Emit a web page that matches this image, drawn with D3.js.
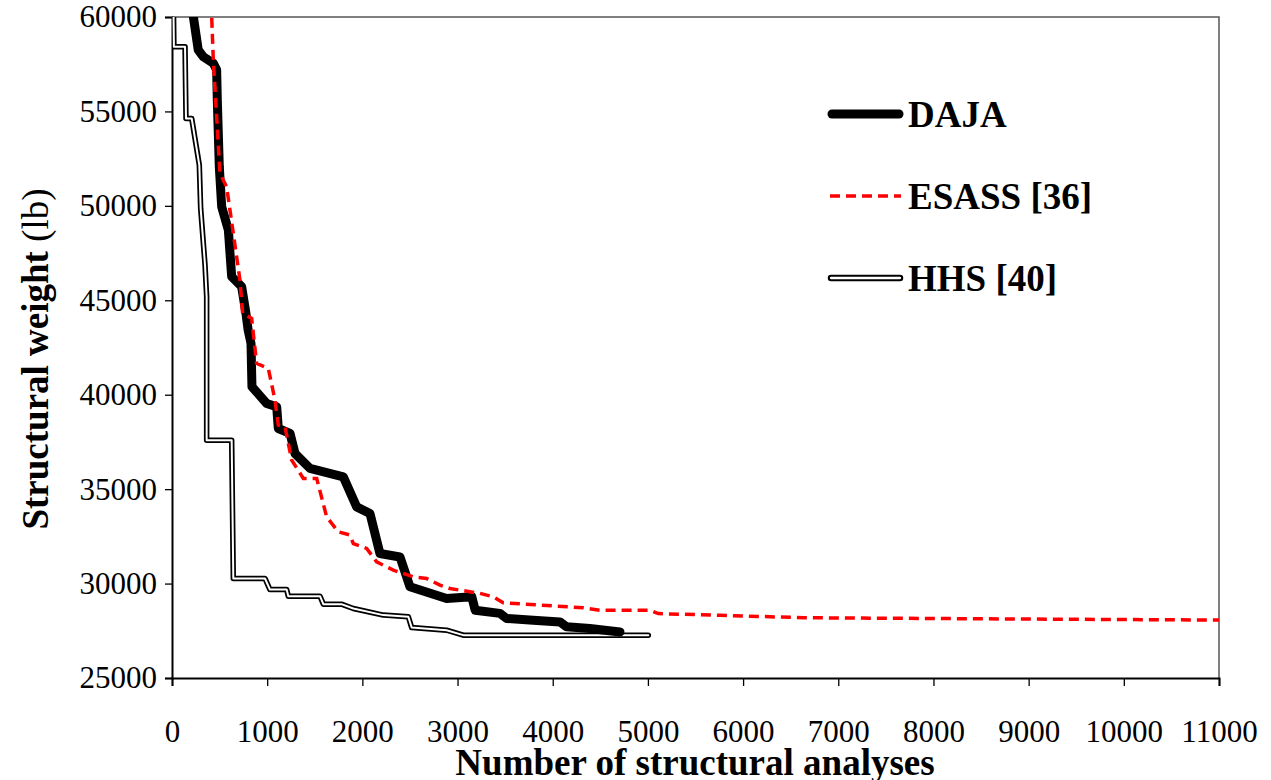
<!DOCTYPE html>
<html lang="en">
<head>
<meta charset="UTF-8">
<title>Structural weight convergence</title>
<script src="https://cdn.jsdelivr.net/npm/d3@7"></script>
<style>
  body { margin: 0; background: #fff; }
  text { font-family: "Liberation Serif", "Times New Roman", serif; }
</style>
</head>
<body>
<script>
// series values
var dajaX = [200, 225, 276, 329, 434, 469, 476, 497, 522, 592, 627, 732, 777, 800, 830, 840, 995, 1100, 1117, 1240, 1292, 1450, 1800, 1940, 2080, 2185, 2395, 2500, 2885, 3150, 3185, 3445, 3516, 3795, 4076, 4146, 4390, 4706];
var dajaY = [61500, 60000, 58250, 57900, 57550, 57200, 55600, 52070, 49950, 48720, 46250, 45720, 44300, 43420, 42720, 40420, 39540, 39360, 38210, 37950, 36890, 36100, 35650, 34060, 33710, 31590, 31410, 29830, 29210, 29300, 28590, 28420, 28150, 28060, 27970, 27710, 27620, 27440];

var esassX = [410, 417, 434, 504, 574, 714, 742, 837, 889, 1012, 1082, 1117, 1187, 1257, 1380, 1520, 1625, 1747, 1870, 1905, 2045, 2150, 2325, 2535, 2675, 2815, 2920, 3235, 3375, 3480, 3866, 4320, 4496, 5021, 5109, 5756, 6640, 9000, 11000];
var esassY = [60800, 60000, 57720, 51720, 51010, 46070, 44310, 44040, 41660, 41390, 39710, 38390, 38300, 36540, 35570, 35570, 33530, 32740, 32570, 32120, 31860, 31150, 30710, 30360, 30270, 29920, 29740, 29480, 29300, 28980, 28860, 28720, 28590, 28590, 28410, 28320, 28190, 28120, 28070];

var hhsX = [14, 20, 137, 147, 207, 287, 301, 347, 364, 364, 627, 644, 977, 1029, 1205, 1222, 1555, 1590, 1780, 1905, 2220, 2483, 2518, 2885, 3060, 5004];
var hhsY = [61000, 58430, 58430, 54630, 54630, 52160, 49870, 46860, 45190, 37590, 37590, 30270, 30270, 29680, 29680, 29330, 29330, 28910, 28910, 28680, 28330, 28240, 27670, 27530, 27270, 27270];

var xTicks = [0, 1000, 2000, 3000, 4000, 5000, 6000, 7000, 8000, 9000, 10000, 11000];
var yTicks = [25000, 30000, 35000, 40000, 45000, 50000, 55000, 60000];
var legendNames = ["DAJA", "ESASS [36]", "HHS [40]"];

// Width and height
var w = 1271, h = 780;
var mLeft = 172, mRight = 1219, mTop = 17, mBottom = 678;

var svg = d3.select("body").append("svg")
  .attr("width", w)
  .attr("height", h);

var x = d3.scaleLinear().domain([0, 11000]).range([mLeft, mRight]);
var y = d3.scaleLinear().domain([25000, 60000]).range([mBottom, mTop]);

svg.append("clipPath").attr("id", "plot")
  .append("rect")
  .attr("x", mLeft).attr("y", mTop)
  .attr("width", mRight - mLeft).attr("height", mBottom - mTop);

// frame (top and right)
svg.append("path")
  .attr("d", "M" + mLeft + "," + mTop + "H" + mRight + "V" + mBottom)
  .attr("fill", "none")
  .attr("stroke", "#555")
  .attr("stroke-width", 1.5);

// axes
var xAxis = svg.append("g")
  .attr("transform", "translate(0," + mBottom + ")")
  .call(d3.axisBottom(x).tickValues(xTicks).tickSize(8).tickPadding(34).tickFormat(d3.format("d")));
var yAxis = svg.append("g")
  .attr("transform", "translate(" + mLeft + ",0)")
  .call(d3.axisLeft(y).tickValues(yTicks).tickSize(7).tickPadding(8).tickFormat(d3.format("d")));

[xAxis, yAxis].forEach(function(g) {
  g.select(".domain").attr("stroke", "#000").attr("stroke-width", 2);
  g.selectAll(".tick line").attr("stroke", "#000").attr("stroke-width", 1.3);
  g.selectAll(".tick text")
    .attr("fill", "#000")
    .style("font-size", "31px")
    .style("font-family", "'Liberation Serif', 'Times New Roman', serif");
});

// axis titles
svg.append("text")
  .attr("x", 695).attr("y", 775)
  .attr("text-anchor", "middle")
  .style("font-size", "37px")
  .style("font-weight", "bold")
  .text("Number of structural analyses");

var yt = svg.append("text")
  .attr("transform", "translate(48,359) rotate(-90)")
  .attr("text-anchor", "middle")
  .style("font-size", "37px");
yt.append("tspan").style("font-weight", "bold").text("Structural weight ");
yt.append("tspan").text("(lb)");

// lines
function pts(xs, ys) {
  return xs.map(function(v, i) { return [v, ys[i]]; });
}
var line = d3.line().x(function(d) { return x(d[0]); }).y(function(d) { return y(d[1]); });

var plot = svg.append("g").attr("clip-path", "url(#plot)");

// HHS: double line (black outline, white core)
plot.append("path")
  .attr("d", line(pts(hhsX, hhsY)))
  .attr("fill", "none").attr("stroke", "#000")
  .attr("stroke-width", 5.5).attr("stroke-linejoin", "round").attr("stroke-linecap", "round");
plot.append("path")
  .attr("d", line(pts(hhsX, hhsY)))
  .attr("fill", "none").attr("stroke", "#fff")
  .attr("stroke-width", 2).attr("stroke-linejoin", "round").attr("stroke-linecap", "round");

// DAJA
plot.append("path")
  .attr("d", line(pts(dajaX, dajaY)))
  .attr("fill", "none").attr("stroke", "#000")
  .attr("stroke-width", 9).attr("stroke-linejoin", "round").attr("stroke-linecap", "round");

// ESASS
plot.append("path")
  .attr("d", line(pts(esassX, esassY)))
  .attr("fill", "none").attr("stroke", "#ff0000")
  .attr("stroke-width", 3.5).attr("stroke-dasharray", "10,6");

// legend
var legY = [114, 196, 278];
var lg = svg.append("g");
lg.append("line")
  .attr("x1", 832).attr("x2", 899).attr("y1", legY[0]).attr("y2", legY[0])
  .attr("stroke", "#000").attr("stroke-width", 9).attr("stroke-linecap", "round");
lg.append("line")
  .attr("x1", 830).attr("x2", 901).attr("y1", legY[1]).attr("y2", legY[1])
  .attr("stroke", "#ff0000").attr("stroke-width", 3.5).attr("stroke-dasharray", "10,6");
lg.append("line")
  .attr("x1", 831).attr("x2", 900).attr("y1", legY[2]).attr("y2", legY[2])
  .attr("stroke", "#000").attr("stroke-width", 6.5).attr("stroke-linecap", "round");
lg.append("line")
  .attr("x1", 831).attr("x2", 900).attr("y1", legY[2]).attr("y2", legY[2])
  .attr("stroke", "#fff").attr("stroke-width", 2.3).attr("stroke-linecap", "round");

lg.selectAll("text.leg")
  .data(legendNames)
  .enter().append("text")
  .attr("class", "leg")
  .attr("x", 908)
  .attr("y", function(d, i) { return legY[i] + 13; })
  .style("font-size", "37px")
  .style("font-weight", "bold")
  .text(function(d) { return d; });
</script>
</body>
</html>
